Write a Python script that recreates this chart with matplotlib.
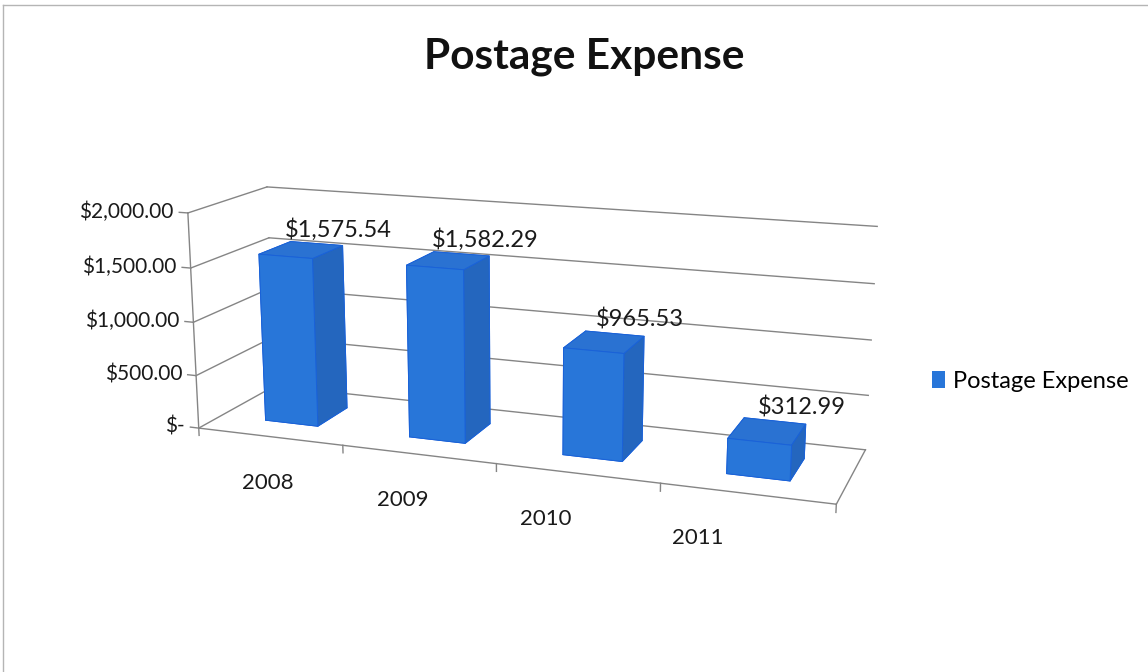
import matplotlib
matplotlib.use('Agg')
import matplotlib.pyplot as plt
from matplotlib.patches import Patch
from matplotlib.lines import Line2D

# data
years = ['2008', '2009', '2010', '2011']
expense = [1575.54, 1582.29, 965.53, 312.99]
value_labels = ['$1,575.54', '$1,582.29', '$965.53', '$312.99']
y_ticks = [0, 500, 1000, 1500, 2000]
y_tick_labels = ['$-', '$500.00', '$1,000.00', '$1,500.00', '$2,000.00']

plt.rcParams['font.family'] = ['Lato', 'DejaVu Sans']

fig = plt.figure(figsize=(11.48, 6.72), dpi=100)
ax = fig.add_axes([0.076, 0.071, 0.75, 0.85], projection='3d', computed_zorder=False)
ax.set_proj_type('persp', focal_length=0.55)
ax.view_init(elev=14.5, azim=-70)
ax.set_box_aspect((4, 1.0, 1.37), zoom=1.22)
n = len(years)
ax.set_xlim(0, n)
ax.set_ylim(0, 1)
ax.set_zlim(0, 2000)
ax.set_axis_off()

grid = '#858585'
txt = '#1a1a1a'
lkw = dict(color=grid, lw=1, zorder=1, clip_on=False)
# walls: back wall and left side wall grid
for z, lab in zip(y_ticks, y_tick_labels):
    ax.plot([0, n], [1, 1], [z, z], **lkw)
    ax.plot([0, 0], [0, 1], [z, z], **lkw)
    ax.plot([-0.06, 0], [0, 0], [z, z], **lkw)
    ax.text(-0.1, 0, z, lab, ha='right', va='center', fontsize=15, color=txt)
ax.plot([0, 0], [0, 0], [-70, 2000], **lkw)

# floor edges and category ticks
ax.plot([0, n], [0, 0], [0, 0], **lkw)
ax.plot([n, n], [0, 1], [0, 0], **lkw)
for k in range(1, n + 1):
    ax.plot([k, k], [0, 0], [0, -70], **lkw)

# bars
bw, bd = 0.37, 0.42
xs = [i + 0.5 - bw / 2 for i in range(n)]
ys = [0.5 - bd / 2] * n
face_cols = []
for _ in range(n):
    # bottom, top, front, back, left, right
    face_cols += ['#2876D9', '#2A72D2', '#2876D9', '#2876D9', '#2876D9', '#2466BE']
bars = ax.bar3d(xs, ys, [0] * n, bw, bd, expense, color=face_cols, shade=False,
                edgecolor='#1A62D8', linewidth=0.7, zorder=2)
bars.set_clip_on(False)

for i, (v, lab) in enumerate(zip(expense, value_labels)):
    ax.text(i + 0.66, 0.5 + bd / 2, v + 150, lab, ha='center', va='center',
            fontsize=17, color=txt, zorder=3)
    ax.text(0.70 + 0.875 * i, -0.4, -210, years[i], ha='center', va='center',
            fontsize=16, color=txt, zorder=3)

fig.text(584 / 1148, 1 - 57 / 672, 'Postage Expense', ha='center', va='center',
         fontsize=30.5, fontweight='bold', color='#111111')

fig.legend(handles=[Patch(facecolor='#2876D9', label='Postage Expense')],
           loc='center left', bbox_to_anchor=(932 / 1148, 1 - 381 / 672),
           frameon=False, fontsize=17, handlelength=0.55, handleheight=0.7,
           handletextpad=0.35, borderaxespad=0, borderpad=0)

fig.add_artist(Line2D([0.003, 1], [0.993, 0.993], color='#b5b5b5', lw=1))
fig.add_artist(Line2D([0.003, 0.003], [0, 0.993], color='#b5b5b5', lw=1))

fig.savefig('out.png', dpi=100)
